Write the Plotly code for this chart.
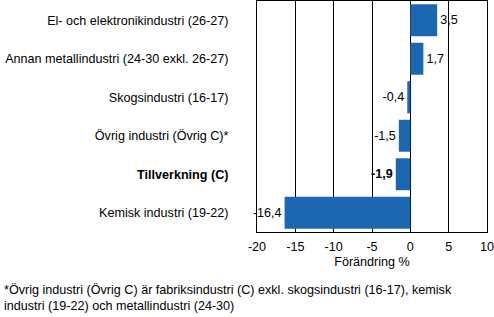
import plotly.graph_objects as go

categories = [
    "El- och elektronikindustri (26-27)",
    "Annan metallindustri (24-30 exkl. 26-27)",
    "Skogsindustri (16-17)",
    "Övrig industri (Övrig C)*",
    "<b>Tillverkning (C)</b>",
    "Kemisk industri (19-22)",
]
values = [3.5, 1.7, -0.4, -1.5, -1.9, -16.4]
value_labels = ["3,5", "1,7", "-0,4", "-1,5", "<b>-1,9</b>", "-16,4"]
x_ticks = [-20, -15, -10, -5, 0, 5, 10]
x_tick_labels = ["-20", "-15", "-10", "-5", "0", "5", "10"]

FONT = "Liberation Sans, Arial, sans-serif"
FS = 12.6

fig = go.Figure(
    go.Bar(
        x=values,
        y=categories,
        orientation="h",
        marker=dict(color="#1c67b1", line=dict(width=0)),
        text=value_labels,
        textposition="outside",
        textfont=dict(family=FONT, size=FS, color="black"),
        cliponaxis=False,
    )
)

fig.update_layout(
    width=494,
    height=317,
    margin=dict(l=257, r=7, t=1, b=85),
    paper_bgcolor="white",
    plot_bgcolor="white",
    showlegend=False,
    bargap=0.17,
    font=dict(family=FONT, size=FS, color="black"),
    xaxis=dict(
        range=[-20, 10],
        tickvals=x_ticks,
        ticktext=x_tick_labels,
        showgrid=True,
        gridcolor="black",
        gridwidth=1,
        zeroline=True,
        zerolinecolor="black",
        zerolinewidth=1,
        showline=True,
        linecolor="black",
        mirror=True,
        ticks="",
        ticklabelstandoff=3,
        ticklabeloverflow="allow",
        title=dict(text="Förändring %", standoff=4, font=dict(size=FS)),
        tickfont=dict(size=FS),
    ),
    yaxis=dict(
        categoryorder="array",
        categoryarray=categories,
        autorange="reversed",
        showline=True,
        linecolor="black",
        mirror=True,
        ticks="",
        ticklabelstandoff=25,
        tickfont=dict(size=FS),
    ),
    annotations=[
        dict(
            text="*Övrig industri (Övrig C) är fabriksindustri (C) exkl. skogsindustri (16-17), kemisk<br>industri (19-22) och metallindustri (24-30)",
            xref="paper", yref="paper",
            x=-255 / 230, y=-0.21,
            xanchor="left", yanchor="top",
            align="left",
            showarrow=False,
            font=dict(family=FONT, size=FS, color="black"),
        )
    ],
)

fig.write_html("out.html")
